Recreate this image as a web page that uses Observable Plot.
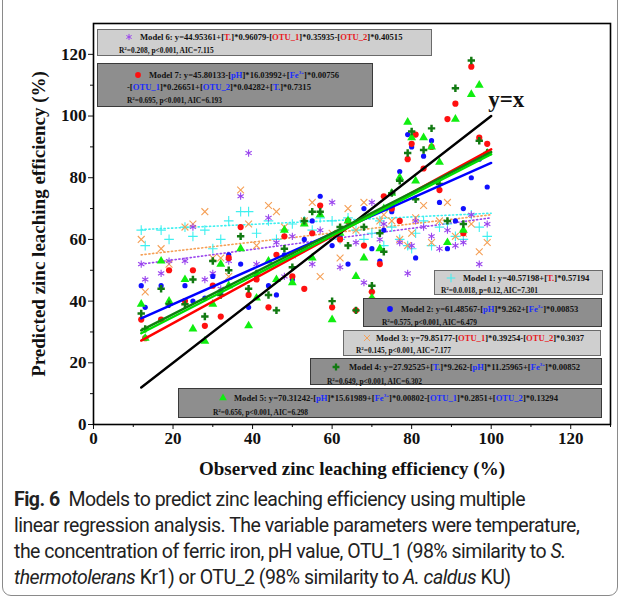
<!DOCTYPE html>
<html><head><meta charset="utf-8">
<script src="https://cdn.jsdelivr.net/npm/d3@7"></script>
<script src="https://cdn.jsdelivr.net/npm/@observablehq/plot@0.6"></script>
<style>
body{margin:0;background:#fff;}
#wrap{position:relative;width:622px;height:600px;overflow:hidden;}
#border{position:absolute;left:2px;top:-12px;width:616px;height:608px;border:1px solid #8a8a8a;border-radius:9px;box-sizing:border-box;}
#chart{position:absolute;left:0;top:0;}
#chart svg text{font-family:"Liberation Serif","Times New Roman",serif !important;font-weight:bold;}
.box{position:absolute;box-sizing:border-box;border:1.5px solid #4a4a4a;font-family:"Liberation Serif",serif;font-weight:bold;color:#111;}
.box.light{background:#cfcfcf;border-color:#6a6a6a;}
.box.dark{background:#8e8e8e;border-color:#3a3a3a;}
.ln{position:absolute;white-space:nowrap;transform:translateY(-50%);line-height:1;}
.l1{font-size:8.6px;}
.l2{font-size:7.4px;}
.r{color:#e8191e;} .b{color:#1a2cff;}
.mk{position:absolute;transform:translate(-50%,-50%);}
#cap{position:absolute;left:14px;top:487px;font-family:"Roboto",sans-serif;font-size:19.5px;letter-spacing:-0.5px;line-height:26px;color:#222;white-space:nowrap;}
#cap b{font-weight:bold;}
g[aria-label="x-axis label"] text, g[aria-label="y-axis label"] text{font-size:19px;}
</style></head>
<body>
<div id="wrap">
<div id="chart"></div>
<div id="border"></div>
<div id="cap"><b>Fig. 6</b>&nbsp; Models to predict zinc leaching efficiency using multiple<br>linear regression analysis. The variable parameters were temperature,<br>the concentration of ferric iron, pH value, OTU_1 (98% similarity to <i>S.</i><br><i>thermotolerans</i> Kr1) or OTU_2 (98% similarity to <i>A. caldus</i> KU)</div>
</div>
<script>
// observed zinc leaching efficiency (%)
const observed = [12,13,17,19,23,25,28,30,32,34,37,39,41,44,46,48,50,53,55,57,60,62,64,66,68,70,72,73,75,77,79,80,81,83,85,87,89,91,93,95,97,99];
// predicted values for each model
const model1 = [63,58,63,60,64,61,63,57,60,66,69,69,62,66,60,63,65,66,63,67,66,60,67,63,60,62,66,58,64,60,58,57,62,66,58,64,65,61,60,68,64,61];
const model2 = [45,38,45,39,45,40,41,48,43,55,52,38,48,45,42,55,47,60,66,74,58,61,52,37,70,57,53,63,69,82,94,90,54,87,92,72,57,66,70,80,86,77];
const model3 = [60,43,57,52,64,65,69,54,54,48,76,65,58,71,69,64,55,66,72,48,62,54,70,63,72,42,66,68,66,60,58,62,67,71,59,66,72,61,62,65,56,59];
const model4 = [36,31,44,39,39,47,35,53,42,50,61,44,49,42,37,57,51,66,69,69,40,64,58,37,64,45,62,56,75,79,88,95,73,89,96,78,66,109,65,118,92,88];
const model5 = [39,28,53,40,47,31,27,39,52,45,57,32,41,53,47,63,46,65,54,68,34,62,66,48,54,41,57,70,75,80,98,93,79,93,90,85,59,99,63,107,110,88];
const model6 = [52,47,49,53,53,64,47,49,44,53,74,88,52,67,59,48,61,57,52,63,72,51,65,59,46,72,60,65,70,59,49,58,66,64,61,57,63,58,59,68,52,65];
const model7 = [34,28,34,50,40,50,32,45,35,54,64,42,47,38,55,61,48,44,62,71,38,60,66,37,58,43,52,74,70,66,86,91,94,83,90,76,99,104,62,116,93,91];
// fitted lines (value at start and end of observed range)
const fitX = [12,100];
const fit1 = [63.2,68.5];
const fit2 = [34.4,84.8];
const fit3 = [55,68];
const fit4 = [30.5,88.3];
const fit5 = [29.6,87.6];
const fit6 = [52,67];
const fit7 = [27.2,89.2];
const identity = [12,100];
const xTicks = [0,20,40,60,80,100,120];
const xMinor = [10,30,50,70,90,110,130];
const yTicks = [0,20,40,60,80,100,120];
const yMinor = [10,30,50,70,90,110];

const models = [
  {name:"Model 1", vals:model1, fit:fit1, symbol:"plus", color:"#3ff0f0", filled:false, r:3.2, dotted:true},
  {name:"Model 3", vals:model3, fit:fit3, symbol:"times", color:"#f5a057", filled:false, r:3.2, dotted:true},
  {name:"Model 6", vals:model6, fit:fit6, symbol:"asterisk", color:"#9a45ee", filled:false, r:3.4, dotted:true},
  {name:"Model 2", vals:model2, fit:fit2, symbol:"circle", color:"#1010ff", filled:true, r:2.6, dotted:false},
  {name:"Model 7", vals:model7, fit:fit7, symbol:"circle", color:"#ff1010", filled:true, r:3.1, dotted:false},
  {name:"Model 5", vals:model5, fit:fit5, symbol:"triangle", color:"#10ee10", filled:true, r:3.3, dotted:false},
  {name:"Model 4", vals:model4, fit:fit4, symbol:"cross", color:"#127a12", filled:true, r:3.1, dotted:false}
];
const lineColor = {"Model 2":"#0000ff","Model 7":"#ff0000","Model 5":"#00dd00","Model 4":"#108010"};

const marks = [];
for (const m of models.filter(d=>d.dotted)) {
  marks.push(Plot.line(fitX.map((x,i)=>({x, y:m.fit[i]})), {x:"x", y:"y", stroke:m.color, strokeWidth:1.6, strokeDasharray:"1.2,2.6"}));
}
for (const m of models) {
  const data = observed.map((x,i)=>({x, y:m.vals[i]}));
  marks.push(Plot.dot(data, {x:"x", y:"y", symbol:()=>m.symbol, r:m.r,
    fill: m.filled ? m.color : "none", stroke: m.filled ? "none" : m.color, strokeWidth: m.filled?0:1.1}));
}
marks.push(Plot.line(identity.map(v=>({x:v,y:v})), {x:"x", y:"y", stroke:"black", strokeWidth:2.4}));
for (const m of ["Model 2","Model 7","Model 4","Model 5"].map(n=>models.find(d=>d.name===n))) {
  marks.push(Plot.line(fitX.map((x,i)=>({x, y:m.fit[i]})), {x:"x", y:"y", stroke:lineColor[m.name], strokeWidth:2.4}));
}
marks.push(Plot.text([{x:identity[1], y:identity[1]}], {x:"x", y:"y", text:()=>"y=x", textAnchor:"start", dx:-3, dy:-16, fontSize:23, fontFamily:"Liberation Serif", fontWeight:"bold"}));
marks.push(Plot.axisX({ticks:xMinor, tickSize:3, text:null, label:null}));
marks.push(Plot.axisY({ticks:yMinor, tickSize:3, text:null, label:null}));
marks.push(Plot.axisX({ticks:xTicks, tickSize:5, tickPadding:2, label:"Observed zinc leaching efficiency (%)", labelAnchor:"center", labelOffset:50, labelArrow:"none"}));
marks.push(Plot.axisY({ticks:yTicks, tickSize:5, tickPadding:2, label:"Predicted zinc leaching efficiency (%)", labelAnchor:"center", labelOffset:62, labelArrow:"none"}));
marks.push(Plot.frame({stroke:"black", strokeWidth:1.6}));

const chart = Plot.plot({
  width:622, height:485,
  marginLeft:93, marginRight:12, marginTop:23, marginBottom:61,
  x:{domain:[0,130]}, y:{domain:[0,130]},
  style:{fontFamily:"Liberation Serif", fontWeight:"bold", fontSize:"17px", color:"#111", background:"transparent"},
  marks
});
document.getElementById("chart").appendChild(chart);

function sym(type, color, filled){
  const s = {plus:d3.symbolPlus, times:d3.symbolTimes, asterisk:d3.symbolAsterisk, circle:d3.symbolCircle, triangle:d3.symbolTriangle, cross:d3.symbolCross}[type];
  const p = d3.symbol().type(s).size(26)();
  return `<svg width="10" height="10" viewBox="-5 -5 10 10"><path d="${p}" fill="${filled?color:"none"}" stroke="${filled?"none":color}" stroke-width="1"/></svg>`;
}
const fe = c=>`[<span class="${c}">Fe<sup style="font-size:5px">3+</sup></span>]`;
const v = (c,t)=>`[<span class="${c}">${t}</span>]`;
const R2 = `R<sup style="font-size:5px">2</sup>`;
const boxes = [
  {cls:"light", l:97, t:29, w:335, h:27, m:models[2], mx:128, my:36, lines:[
    {x:139, y:36, c:"l1", h:`Model 6: y=44.95361+${v("r","T.")}*0.96079-${v("r","OTU_1")}*0.35935-${v("r","OTU_2")}*0.40515`},
    {x:118, y:49, c:"l2", h:`${R2}=0.208, p&lt;0.001, AIC=7.115`}]},
  {cls:"dark", l:97, t:63, w:276, h:44, m:models[4], mx:137, my:74, lines:[
    {x:148, y:74, c:"l1", h:`Model 7: y=45.80133-${v("b","pH")}*16.03992+${fe("b")}*0.00756`},
    {x:126, y:86, c:"l1", h:`-${v("b","OTU_1")}*0.26651+${v("b","OTU_2")}*0.04282+${v("b","T.")}*0.7315`},
    {x:126, y:98.5, c:"l2", h:`${R2}=0.695, p&lt;0.001, AIC=6.193`}]},
  {cls:"light", l:434, t:270, w:169, h:25, m:models[0], mx:450, my:277, lines:[
    {x:462, y:277, c:"l1", h:`Model 1: y=40.57198+${v("r","T.")}*0.57194`},
    {x:440, y:289, c:"l2", h:`${R2}=0.0.018, p=0.12, AIC=7.301`}]},
  {cls:"dark", l:363, t:298, w:239, h:29, m:models[3], mx:389, my:308, lines:[
    {x:400, y:308, c:"l1", h:`Model 2: y=61.48567-${v("b","pH")}*9.262+${fe("b")}*0.00853`},
    {x:381, y:321, c:"l2", h:`${R2}=0.575, p&lt;0.001, AIC=6.479`}]},
  {cls:"light", l:343, t:330, w:258, h:26, m:models[1], mx:366, my:337, lines:[
    {x:375, y:337, c:"l1", h:`Model 3: y=79.85177-${v("r","OTU_1")}*0.39254-${v("r","OTU_2")}*0.3037`},
    {x:355, y:349, c:"l2", h:`${R2}=0.145, p&lt;0.001, AIC=7.177`}]},
  {cls:"dark", l:310, t:358, w:292, h:27, m:models[6], mx:335, my:366, lines:[
    {x:348, y:366, c:"l1", h:`Model 4: y=27.92525+${v("b","T.")}*9.262-${v("b","pH")}*11.25965+${fe("b")}*0.00852`},
    {x:326, y:380, c:"l2", h:`${R2}=0.649, p&lt;0.001, AIC=6.302`}]},
  {cls:"dark", l:178, t:388, w:424, h:30, m:models[5], mx:222, my:397, lines:[
    {x:233, y:397, c:"l1", h:`Model 5: y=70.31242-${v("b","pH")}*15.61989+${fe("b")}*0.00802-${v("b","OTU_1")}*0.2851+${v("b","OTU_2")}*0.13294`},
    {x:212, y:411, c:"l2", h:`${R2}=0.656, p&lt;0.001, AIC=6.298`}]}
];
const wrap = document.getElementById("wrap");
for (const b of boxes) {
  const d = document.createElement("div");
  d.className = "box " + b.cls;
  Object.assign(d.style, {left:b.l+"px", top:b.t+"px", width:b.w+"px", height:b.h+"px"});
  let html = `<div class="mk" style="left:${b.mx-b.l}px;top:${b.my-b.t}px">${sym(b.m.symbol,b.m.color,b.m.filled)}</div>`;
  for (const ln of b.lines) html += `<div class="ln ${ln.c}" style="left:${ln.x-b.l}px;top:${ln.y-b.t}px">${ln.h}</div>`;
  d.innerHTML = html;
  wrap.appendChild(d);
}
</script>
</body></html>
